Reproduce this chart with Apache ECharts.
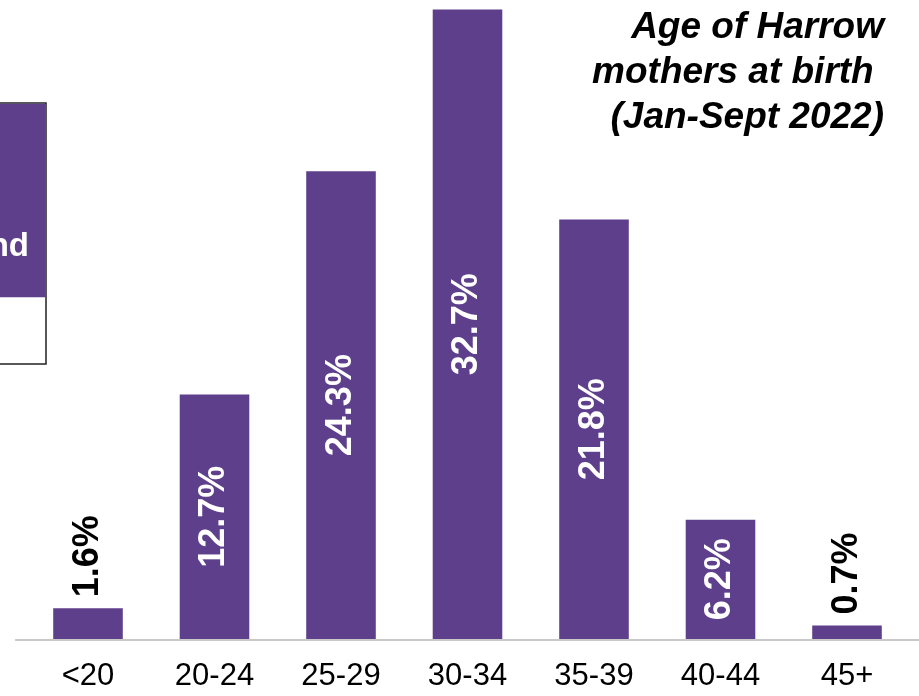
<!DOCTYPE html>
<html>
<head>
<meta charset="utf-8">
<script src="https://cdn.jsdelivr.net/npm/echarts@6/dist/echarts.min.js"></script>
<style>
  html, body { margin: 0; padding: 0; background: #fff; }
  #chart { width: 919px; height: 696px; }
</style>
</head>
<body>
<div id="chart"></div>
<script>
// Age bands of mothers and share of births (%)
const ageBands = ['<20', '20-24', '25-29', '30-34', '35-39', '40-44', '45+'];
const sharePct = [1.6, 12.7, 24.3, 32.7, 21.8, 6.2, 0.7];
const titleLines = ['Age of Harrow', 'mothers at birth ', '(Jan-Sept 2022)'];
const tableHeader = 'England';

const PURPLE = '#5E3F8B';
const FONT = '"Liberation Sans", Arial, sans-serif';
const INSIDE_MIN = 5; // bars shorter than this carry their label above

const gridTop = 0, gridBottom = 57;
const baseY = 696 - gridBottom;

const chart = echarts.init(document.getElementById('chart'), null, { renderer: 'canvas' });

chart.setOption({
  animation: false,
  backgroundColor: '#ffffff',
  grid: { left: 24.75, width: 885.5, top: gridTop, bottom: gridBottom, containLabel: false },
  xAxis: {
    type: 'category',
    data: ageBands,
    axisLine: { show: false },
    axisTick: { show: false },
    axisLabel: { color: '#000', fontFamily: FONT, fontSize: 31, margin: 22 }
  },
  yAxis: { type: 'value', min: 0, max: 33.2, show: false, splitLine: { show: false } },
  series: [{
    type: 'bar',
    barWidth: '55%',
    itemStyle: { color: PURPLE },
    data: sharePct.map(v => ({
      value: v,
      label: v >= INSIDE_MIN
        ? { position: 'inside', color: '#fff' }
        : { position: 'top', color: '#000', align: 'left', verticalAlign: 'middle', distance: 11 }
    })),
    label: {
      show: true,
      rotate: 90,
      fontFamily: FONT,
      fontWeight: 'bold',
      fontSize: 36,
      formatter: p => p.value.toFixed(1) + '%'
    }
  }],
  graphic: [
    // baseline under the bars
    { type: 'line', shape: { x1: 15, y1: baseY + 1, x2: 919, y2: baseY + 1 },
      style: { stroke: '#c9c9c9', lineWidth: 2 }, z: 10 },
    // title, right aligned
    { type: 'text', x: 884, y: 5,
      style: { text: titleLines.join('\n'), align: 'right', verticalAlign: 'top', fill: '#000',
               font: 'italic bold 37px ' + FONT, lineHeight: 45 } },
    // edge of the comparison table on the left
    { type: 'rect', shape: { x: -2, y: 103, width: 48, height: 261 },
      style: { fill: '#fff', stroke: '#222', lineWidth: 1.5 } },
    { type: 'rect', shape: { x: -2, y: 103.75, width: 47.25, height: 193.5 },
      style: { fill: PURPLE } },
    { type: 'text', x: 29, y: 247,
      style: { text: tableHeader, align: 'right', verticalAlign: 'middle', fill: '#fff',
               font: 'bold 33px ' + FONT } }
  ]
});
</script>
</body>
</html>
